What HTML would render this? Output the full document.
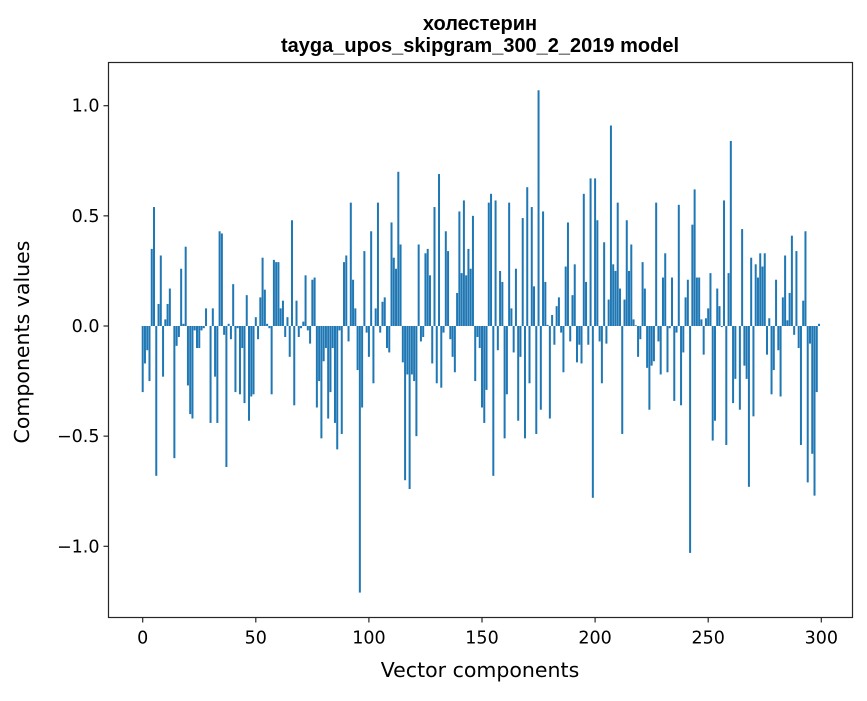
<!DOCTYPE html>
<html><head><meta charset="utf-8"><style>
body{margin:0;background:#fff;}
svg text{font-family:"DejaVu Sans","Liberation Sans",sans-serif;fill:#000;}
svg text.ttl{font-family:"Liberation Sans","DejaVu Sans",sans-serif;}
</style></head><body>
<svg id="chart" width="867" height="696" viewBox="0 0 867 696" xmlns="http://www.w3.org/2000/svg">
<rect width="867" height="696" fill="#fff"/>
<text class="ttl" x="480" y="30" text-anchor="middle" font-size="20" font-weight="bold">холестерин</text>
<text class="ttl" x="480" y="52" text-anchor="middle" font-size="20" font-weight="bold">tayga_upos_skipgram_300_2_2019 model</text>
<g id="bars"></g>
<g id="axes"></g>
<text x="480" y="677" text-anchor="middle" font-size="20.5">Vector components</text>
<text transform="translate(29,342) rotate(-90)" text-anchor="middle" font-size="20.5">Components values</text>
</svg>
<script>
const values = [
-0.30,-0.17,-0.11,-0.25,0.35,0.54,-0.68,0.10,0.32,-0.23,
0.03,0.10,0.17,0.0,-0.60,-0.09,-0.05,0.26,0.01,0.36,
-0.27,-0.40,-0.42,-0.02,-0.10,-0.10,-0.02,-0.01,0.08,0.0,
-0.44,0.08,-0.23,-0.44,0.43,0.42,-0.04,-0.64,0.01,-0.06,
0.19,-0.30,-0.01,-0.31,-0.10,-0.35,0.14,-0.43,-0.32,-0.31,
0.04,-0.06,0.13,0.31,0.165,0.01,-0.01,-0.31,0.30,0.29,
0.29,0.08,0.115,-0.05,0.04,-0.14,0.48,-0.36,0.115,-0.05,
-0.01,0.02,0.23,-0.02,-0.08,0.21,0.22,-0.37,-0.25,-0.51,
-0.16,-0.10,-0.42,-0.30,-0.10,-0.44,-0.56,-0.02,-0.49,0.29,
0.32,-0.07,0.56,0.21,0.08,-0.20,-1.21,-0.37,0.34,-0.03,
-0.14,0.43,-0.26,0.08,0.56,-0.03,0.11,0.13,-0.10,-0.12,
0.47,0.31,0.26,0.70,0.37,-0.165,-0.70,-0.22,-0.74,-0.22,
-0.25,-0.50,0.37,-0.07,-0.05,0.33,0.35,0.23,-0.17,0.54,
-0.26,0.69,-0.28,-0.03,0.43,0.34,-0.06,-0.14,-0.21,0.15,
0.52,0.24,0.57,0.23,0.35,0.26,0.50,-0.25,-0.05,-0.10,
-0.37,-0.44,-0.29,0.56,0.60,-0.68,0.57,-0.11,0.25,0.20,
-0.51,-0.31,0.56,0.08,-0.12,0.26,-0.43,-0.14,0.49,-0.51,
0.63,-0.26,0.54,0.18,-0.49,1.07,-0.38,0.52,0.20,0.005,
-0.42,0.05,-0.085,0.09,0.13,-0.03,-0.21,0.27,0.47,-0.07,
0.14,0.28,-0.165,-0.085,-0.17,0.60,0.20,-0.085,0.67,-0.78,
0.67,0.48,-0.07,-0.26,0.38,-0.08,0.12,0.91,0.28,0.25,
0.56,0.17,-0.49,0.12,0.48,0.25,0.37,0.03,0.003,-0.14,
-0.06,0.29,0.17,-0.19,-0.38,-0.18,-0.16,0.56,-0.07,-0.22,
0.22,0.33,-0.21,-0.01,0.22,-0.34,-0.03,0.55,-0.36,-0.12,
0.13,0.21,-1.03,0.46,0.62,0.22,0.22,0.03,-0.13,0.035,
0.08,0.24,-0.52,-0.43,0.17,0.09,-0.005,0.57,-0.54,0.24,
0.84,-0.35,-0.24,0.0,-0.38,0.44,-0.18,-0.24,-0.73,0.31,
-0.41,0.28,0.22,0.33,0.27,0.33,-0.13,0.035,-0.31,-0.20,
0.21,-0.11,-0.32,0.13,0.32,0.026,0.15,0.41,-0.04,0.34,
-0.10,-0.54,0.115,0.43,-0.71,-0.08,-0.58,-0.77,-0.30,0.01
];
const xTicks = [0,50,100,150,200,250,300];
const yTicks = [-1.0,-0.5,0.0,0.5,1.0];
const yTickLabels = ["\u22121.0","\u22120.5","0.0","0.5","1.0"];

const NS="http://www.w3.org/2000/svg";
const L=108.5,R=852.5,T=62.5,B=617.5;
function xs(v){return 142.7+(v)*2.262;}
function ys(v){return 326-v*220.3;}
const bars=document.getElementById('bars');
values.forEach((v,i)=>{
  const r=document.createElementNS(NS,'rect');
  const w=2.0;
  r.setAttribute('x',xs(i)-w/2);
  r.setAttribute('y',Math.min(ys(v),ys(0)));
  r.setAttribute('width',w);
  r.setAttribute('height',Math.max(Math.abs(ys(v)-ys(0)),0.01));
  r.setAttribute('fill','#1f77b4');
  
  
  bars.appendChild(r);
});
const ax=document.getElementById('axes');
function add(tag,attrs,text){const e=document.createElementNS(NS,tag);for(const k in attrs)e.setAttribute(k,attrs[k]);if(text!==undefined)e.textContent=text;ax.appendChild(e);return e;}
const frame=add('rect',{x:L,y:T,width:R-L,height:B-T,fill:'none',stroke:'#262626','stroke-width':1.2});


xTicks.forEach(t=>{
  const x=xs(t);
  const ln=add('line',{x1:x,x2:x,y1:B,y2:B+5,stroke:'#262626','stroke-width':1.2});
  
  
  const tx=add('text',{x:x,y:B+26,'text-anchor':'middle','font-size':'17.5'},String(t));
  
  
});
yTicks.forEach((t,i)=>{
  const y=ys(t);
  const ln=add('line',{x1:L-5,x2:L,y1:y,y2:y,stroke:'#262626','stroke-width':1.2});
  
  
  const tx=add('text',{x:L-9,y:y+6,'text-anchor':'end','font-size':'17.5'},yTickLabels[i]);
  
  
});
</script>
</body></html>
